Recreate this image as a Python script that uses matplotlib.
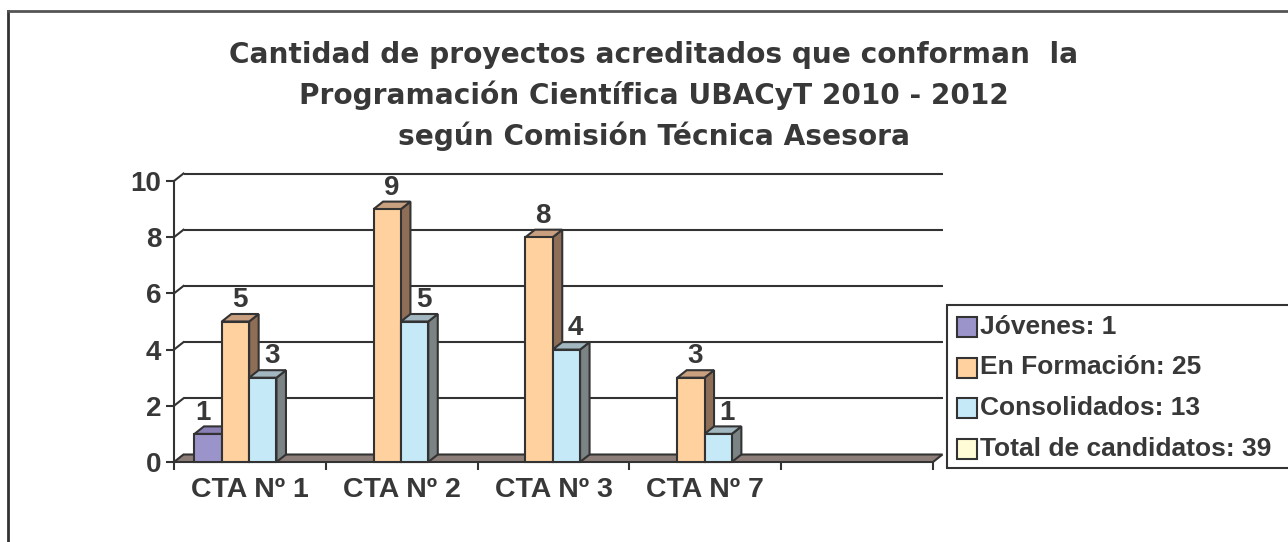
import matplotlib
matplotlib.use('Agg')
from matplotlib import pyplot as plt
from matplotlib.patches import Polygon, Rectangle
from matplotlib.lines import Line2D

categories = ['CTA Nº 1', 'CTA Nº 2', 'CTA Nº 3', 'CTA Nº 7', '']
series_names = ['Jóvenes: 1', 'En Formación: 25', 'Consolidados: 13',
                'Total de candidatos: 39']
jovenes = [1, None, None, None, None]
en_formacion = [5, 9, 8, 3, None]
consolidados = [3, 5, 4, 1, None]
total_candidatos = [None, None, None, None, None]
y_ticks = [0, 2, 4, 6, 8, 10]
title_lines = ['Cantidad de proyectos acreditados que conforman  la',
               'Programación Científica UBACyT 2010 - 2012',
               'según Comisión Técnica Asesora']

series_values = [jovenes, en_formacion, consolidados, total_candidatos]
front_colors = ['#9B94CA', '#FED19F', '#C6E9F8', '#FFFCD6']
top_colors = ['#8A80B6', '#C9A07F', '#A2B7C0', '#D8D4B0']
side_colors = ['#6F6597', '#8F6E58', '#7C8384', '#A8A488']
# horizontal nudge of the value labels, in points
label_shift = [-4, 3, 6.5, 0]

W, H = 1288, 542
INK = '#333333'
TXT = '#383838'


def fx(x):
    return x / W


def fy(y):
    return 1 - y / H


fig = plt.figure(figsize=(W / 100, H / 100), dpi=100)
fig.patch.set_facecolor('white')

# front plane of the plot area, in pixels
left, right, top, bottom = 174, 933, 181, 462
ax = fig.add_axes([fx(left), fy(bottom), fx(right - left), (bottom - top) / H])
ax.set_xlim(-0.5, len(categories) - 0.5)
ax.set_ylim(0, 10)
ax.patch.set_visible(False)

# depth of the fake 3d effect in data units
dx = 9.5 / ((right - left) / len(categories))
dy = 7.5 / ((bottom - top) / 10)
x0 = -0.5
x1 = len(categories) - 0.5

# back gridlines and the little diagonals from the axis
for v in y_ticks[1:]:
    ax.plot([x0 + dx, x1 + dx], [v + dy, v + dy], color=INK, lw=1.5,
            zorder=1, clip_on=False, solid_capstyle='butt')
    ax.plot([x0, x0 + dx], [v, v + dy], color=INK, lw=1.5, zorder=1,
            clip_on=False)

# floor
ax.add_patch(Polygon([(x0, 0), (x1, 0), (x1 + dx, dy), (x0 + dx, dy)],
                     closed=True, facecolor='#8E7E79', edgecolor=INK,
                     lw=1.5, zorder=2, clip_on=False))

# bars
w = 0.18
start = 0.135
for j, vals in enumerate(series_values):
    xs, hs = [], []
    for i, v in enumerate(vals):
        if v is None:
            continue
        xl = i - 0.5 + start + j * w
        xs.append(xl)
        hs.append(v)
        side = [(xl + w, 0), (xl + w + dx, dy), (xl + w + dx, v + dy),
                (xl + w, v)]
        topf = [(xl, v), (xl + w, v), (xl + w + dx, v + dy), (xl + dx, v + dy)]
        ax.add_patch(Polygon(side, closed=True, facecolor=side_colors[j],
                             edgecolor=INK, lw=1.5, zorder=3 + 2 * j,
                             clip_on=False))
        ax.add_patch(Polygon(topf, closed=True, facecolor=top_colors[j],
                             edgecolor=INK, lw=1.5, zorder=3 + 2 * j,
                             clip_on=False))
        ax.annotate(str(v), (xl + w / 2, v + dy), xytext=(label_shift[j], 10),
                    textcoords='offset points', ha='center', va='center',
                    fontsize=20, fontweight='bold', color=TXT,
                    family='Liberation Sans', zorder=20)
    if xs:
        ax.bar(xs, hs, width=w, align='edge', color=front_colors[j],
               edgecolor=INK, lw=1.5, zorder=4 + 2 * j, clip_on=False)

# axes styling
for s in ['top', 'right', 'bottom']:
    ax.spines[s].set_visible(False)
ax.spines['left'].set_color(INK)
ax.spines['left'].set_linewidth(1.5)
ax.spines['left'].set_zorder(15)

ax.set_yticks(y_ticks)
ax.set_yticklabels([str(v) for v in y_ticks])
ax.tick_params(axis='y', length=6, width=1.5, color=INK, pad=3,
               labelsize=20, labelcolor=TXT)
for lab in ax.get_yticklabels():
    lab.set_fontweight('bold')
    lab.set_family('Liberation Sans')

ax.set_xticks([x0 + k for k in range(len(categories) + 1)])
ax.set_xticklabels([''] * (len(categories) + 1))
ax.set_xticks(range(len(categories)), minor=True)
ax.set_xticklabels(categories, minor=True)
ax.tick_params(axis='x', which='major', length=6, width=1.5, color=INK)
ax.tick_params(axis='x', which='minor', length=0, pad=11, labelsize=20.5,
               labelcolor=TXT)
for lab in ax.get_xticklabels(minor=True):
    lab.set_fontweight('bold')
    lab.set_family('Liberation Sans')

# title
for k, line in enumerate(title_lines):
    fig.text(fx(654), fy(55 + k * 40.5), line, ha='center', va='center',
             fontsize=20.2, fontweight='heavy', color=TXT, family='DejaVu Sans')

# legend, drawn by hand to sit like the original
fig.add_artist(Rectangle((fx(947), fy(468)), fx(1295 - 947), (468 - 305) / H,
                         transform=fig.transFigure, facecolor='white',
                         edgecolor=INK, lw=1.5))
for k, name in enumerate(series_names):
    yc = 327 + k * 40.5
    fig.add_artist(Rectangle((fx(957), fy(yc + 10)), fx(20), 20 / H,
                             transform=fig.transFigure,
                             facecolor=front_colors[k], edgecolor=INK, lw=1.5))
    fig.text(fx(980), fy(yc), name, ha='left', va='center', fontsize=19,
             fontweight='bold', color=TXT, family='Liberation Sans')

# outer frame (only left and top edges are visible)
fig.add_artist(Line2D([fx(8), fx(8)], [fy(11), fy(545)],
                      transform=fig.transFigure, color=INK, lw=2))
fig.add_artist(Line2D([fx(8), fx(1290)], [fy(11), fy(11)],
                      transform=fig.transFigure, color='#555555', lw=2))

fig.savefig('out.png', dpi=100)
